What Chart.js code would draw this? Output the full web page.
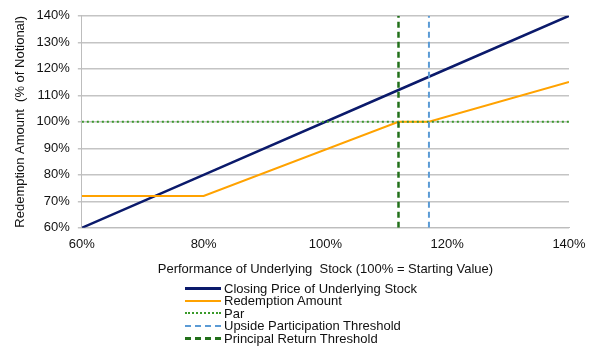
<!DOCTYPE html>
<html>
<head>
<meta charset="utf-8">
<script src="https://cdn.jsdelivr.net/npm/chart.js@4/dist/chart.umd.min.js"></script>
<style>
  body { margin: 0; background: #fff; }
  #wrap { position: relative; width: 601px; height: 361px; }
  #legend {
    position: absolute; left: 185px; top: 283px;
    font-family: "Liberation Sans", Arial, sans-serif; font-size: 13px; color: #111;
  }
  .item { height: 12.4px; line-height: 12.4px; white-space: nowrap; }
  .sample { display: inline-block; width: 36px; height: 0; vertical-align: middle; margin-right: 3px; position: relative; top: -1px; }
</style>
</head>
<body>
<div id="wrap">
  <canvas id="chart" width="601" height="361"></canvas>
  <div id="legend"></div>
</div>
<script>
// Eixo x: desempenho da ação (%)
var perf = [60, 80, 112, 117, 140];
// Séries (% do nocional)
var closingPrice = [60, 80, 112, 117, 140];
var redemptionAmount = [72, 72, 100, 100, 115];
var parLevel = [100, 100, 100, 100, 100];
// Limites verticais
var principalReturnThreshold = 112;
var upsideThreshold = 117;
var yMin = 60, yMax = 140;

function toPoints(xs, ys) {
    return xs.map(function (x, i) { return { x: x, y: ys[i] }; });
}

var series = [
    { label: 'Closing Price of Underlying Stock', data: toPoints(perf, closingPrice), color: '#0b1a6b', width: 2.5, dash: [] },
    { label: 'Redemption Amount', data: toPoints(perf, redemptionAmount), color: '#ffa200', width: 2, dash: [] },
    { label: 'Par', data: toPoints(perf, parLevel), color: '#3a9a2a', width: 2, dash: [2, 3] },
    { label: 'Upside Participation Threshold', data: [{ x: upsideThreshold, y: yMin }, { x: upsideThreshold, y: yMax }], color: '#5b9bd5', width: 2, dash: [6, 4] },
    { label: 'Principal Return Threshold', data: [{ x: principalReturnThreshold, y: yMin }, { x: principalReturnThreshold, y: yMax }], color: '#22701a', width: 2.5, dash: [6, 4] }
];

var ctx = document.getElementById('chart').getContext('2d');
Chart.defaults.font.family = '"Liberation Sans", Arial, sans-serif';
Chart.defaults.font.size = 13;
Chart.defaults.color = '#111';

new Chart(ctx, {
    type: 'line',
    data: {
        datasets: series.map(function (s) {
            return {
                label: s.label,
                data: s.data,
                borderColor: s.color,
                backgroundColor: s.color,
                borderWidth: s.width,
                borderDash: s.dash,
                pointRadius: 0,
                tension: 0,
                fill: false
            };
        }).reverse()
    },
    options: {
        responsive: false,
        animation: false,
        layout: { padding: { top: 12, right: 32, left: 13, bottom: 80 } },
        plugins: { legend: { display: false }, tooltip: { enabled: false } },
        scales: {
            x: {
                type: 'linear',
                min: 60, max: 140,
                ticks: { stepSize: 20, callback: function (v) { return v + '%'; }, padding: 5 },
                grid: { display: false, drawOnChartArea: false, tickLength: 4, color: '#bdbdbd' },
                border: { color: '#bdbdbd' },
                title: { display: true, text: 'Performance of Underlying  Stock (100% = Starting Value)', padding: { top: 4 } }
            },
            y: {
                min: yMin, max: yMax,
                ticks: { stepSize: 10, callback: function (v) { return v + '%'; }, padding: 8 },
                grid: { color: '#c4c4c4', tickLength: 4, lineWidth: 1.5 },
                border: { color: '#bdbdbd' },
                title: { display: true, text: 'Redemption Amount  (% of Notional)', padding: { top: 0, bottom: 0 } }
            }
        }
    }
});

// Legenda em HTML (lista vertical)
var legend = document.getElementById('legend');
series.forEach(function (s) {
    var row = document.createElement('div');
    row.className = 'item';
    var style = s.dash.length === 0 ? 'solid' : (s.dash[0] <= 2 ? 'dotted' : 'dashed');
    row.innerHTML = '<span class="sample" style="border-top:' + Math.round(s.width) + 'px ' + style + ' ' + s.color + '"></span>' + s.label;
    legend.appendChild(row);
});
</script>
</body>
</html>
